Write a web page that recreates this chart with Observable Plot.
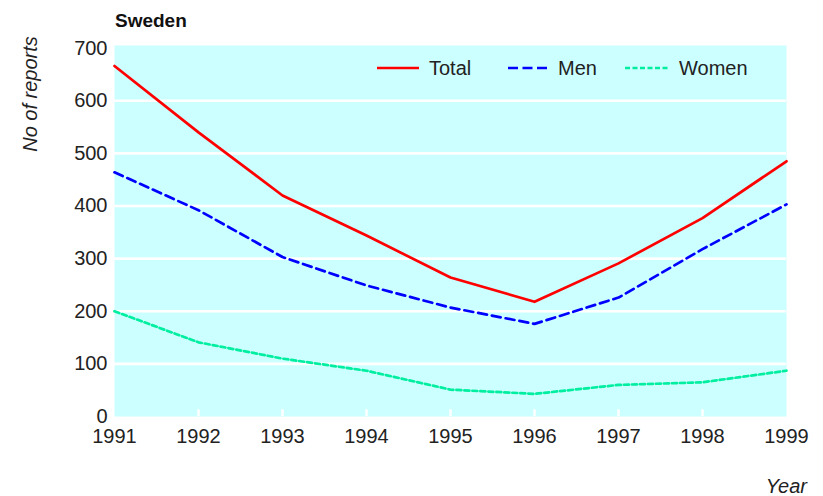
<!DOCTYPE html>
<html>
<head>
<meta charset="utf-8">
<script src="https://cdn.jsdelivr.net/npm/d3@7"></script>
<script src="https://cdn.jsdelivr.net/npm/@observablehq/plot@0.6"></script>
<style>
  html, body { margin: 0; padding: 0; background: #fff; }
  #chart { position: relative; width: 823px; height: 496px; }
</style>
</head>
<body>
<div id="chart"></div>
<script>
const years = [1991, 1992, 1993, 1994, 1995, 1996, 1997, 1998, 1999];
const total = [666, 540, 420, 344, 264, 218, 291, 377, 485];
const men = [464, 392, 303, 249, 207, 176, 226, 318, 403];
const women = [200, 141, 110, 87, 51, 43, 60, 65, 87];
const yTicks = [0, 100, 200, 300, 400, 500, 600, 700];
const gridTicks = [100, 200, 300, 400, 500, 600];

const series = [
  {name: "Total", values: total, color: "#ff0000", dash: null, legendDash: null},
  {name: "Men", values: men, color: "#0000ff", dash: "9,5", legendDash: "10,4.5"},
  {name: "Women", values: women, color: "#00eea0", dash: "5,3", legendDash: "5,2.5"}
];

const rows = series.flatMap(s => years.map((y, i) => ({year: y, value: s.values[i], series: s.name})));

const font = "'Liberation Sans', Arial, Helvetica, sans-serif";

const marks = [
  Plot.frame({fill: "#ccffff", stroke: null}),
  Plot.ruleY(gridTicks, {stroke: "white", strokeWidth: 2.6}),
  Plot.ruleX(years.slice(1, -1), {y1: 0, y2: 13, stroke: "white", strokeWidth: 2.5}),
  Plot.axisY({ticks: yTicks, tickSize: 0, tickPadding: 7, label: null, fill: "#222", fontSize: 20}),
  Plot.axisX({ticks: years, tickSize: 0, tickPadding: 12, tickFormat: d => String(d), label: null, fill: "#222", fontSize: 20})
];
for (const s of series) {
  marks.push(Plot.line(rows.filter(r => r.series === s.name), {
    x: "year", y: "value", stroke: s.color, strokeWidth: 2.7,
    strokeDasharray: s.dash || undefined
  }));
}

const plot = Plot.plot({
  width: 823,
  height: 496,
  marginLeft: 114,
  marginRight: 37,
  marginTop: 45,
  marginBottom: 80,
  x: {domain: [1991, 1999]},
  y: {domain: [0, 705]},
  style: {fontFamily: font, fontSize: "20px", background: "white", overflow: "visible"},
  marks
});
document.getElementById("chart").appendChild(plot);

const svg = d3.select(plot);
svg.append("text")
  .attr("x", 115).attr("y", 27)
  .attr("text-anchor", "start")
  .attr("font-family", font).attr("font-size", 19).attr("font-weight", "bold")
  .attr("fill", "#111")
  .text("Sweden");
svg.append("text")
  .attr("transform", "translate(37,94) rotate(-90)")
  .attr("text-anchor", "middle")
  .attr("font-family", font).attr("font-size", 20).attr("font-style", "italic")
  .attr("fill", "#222")
  .text("No of reports");
svg.append("text")
  .attr("x", 807).attr("y", 493)
  .attr("text-anchor", "end")
  .attr("font-family", font).attr("font-size", 20).attr("font-style", "italic")
  .attr("fill", "#222")
  .text("Year");

// Legend
const legendPos = [
  {x1: 377, x2: 419, tx: 429},
  {x1: 508, x2: 547, tx: 558},
  {x1: 625, x2: 668, tx: 679}
];
const lg = svg.append("g")
  .attr("font-family", font).attr("font-size", 20).attr("fill", "#222")
  .attr("text-anchor", "start");
series.forEach((s, i) => {
  const p = legendPos[i];
  lg.append("line")
    .attr("x1", p.x1).attr("x2", p.x2).attr("y1", 68).attr("y2", 68)
    .attr("stroke", s.color).attr("stroke-width", 2.7)
    .attr("stroke-dasharray", s.legendDash);
  lg.append("text").attr("x", p.tx).attr("y", 75).attr("text-anchor", "start").text(s.name);
});
</script>
</body>
</html>
